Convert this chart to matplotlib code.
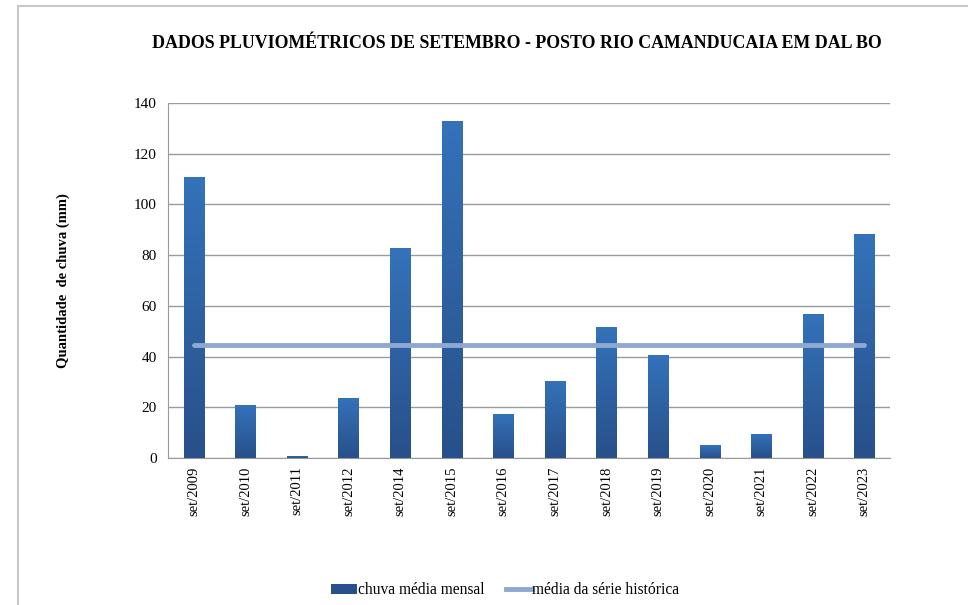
import matplotlib.pyplot as plt
import numpy as np
from matplotlib.lines import Line2D
from matplotlib.patches import Patch
from matplotlib.colors import LinearSegmentedColormap

plt.rcParams['font.family'] = ['Liberation Serif', 'DejaVu Serif']

# Data
categorias = ['set/2009', 'set/2010', 'set/2011', 'set/2012', 'set/2014', 'set/2015', 'set/2016',
              'set/2017', 'set/2018', 'set/2019', 'set/2020', 'set/2021', 'set/2022', 'set/2023']
chuva = [110.8, 20.9, 0.8, 23.7, 82.8, 132.9, 17.4, 30.4, 51.7, 40.6, 5.1, 9.5, 56.8, 88.3]
media_historica = 44.6

cor_base = '#28508A'
cor_topo = '#3472BA'
cor_media = '#8EA8D3'
cor_grade = '#9A9A9A'

fig = plt.figure(figsize=(9.68, 6.05), dpi=100)
ax = fig.add_axes([0.1736, 0.2430, 0.7459, 0.5868])

x = np.arange(len(categorias))
bars = ax.bar(x, chuva, width=0.39, color=cor_base, zorder=2)

# gradient fill for each bar
cmap = LinearSegmentedColormap.from_list('grad', [cor_base, cor_topo])
grad = np.linspace(0, 1, 256).reshape(-1, 1)
for b in bars:
    bx, by = b.get_x(), b.get_y()
    bw, bh = b.get_width(), b.get_height()
    im = ax.imshow(grad, cmap=cmap, origin='lower', aspect='auto',
                   extent=[bx, bx + bw, by, by + bh], zorder=3)
    im.set_clip_path(b)

ax.plot([x[0], x[-1]], [media_historica] * 2, color=cor_media, lw=3.5,
        solid_capstyle='round', zorder=4)

ax.set_xlim(-0.5, len(categorias) - 0.5)
ax.set_ylim(0, 140)
ax.set_yticks(np.arange(0, 141, 20))
ax.set_xticks(x)
ax.set_xticklabels(categorias, rotation=90, fontsize=10.5)
ax.tick_params(axis='y', labelsize=11, length=0, pad=8)
ax.tick_params(axis='x', length=0, pad=6)
ax.grid(axis='y', color=cor_grade, lw=1, zorder=0)
for s in ['top', 'right']:
    ax.spines[s].set_visible(False)
ax.spines['left'].set_color(cor_grade)
ax.spines['bottom'].set_color(cor_grade)

ax.set_ylabel('Quantidade  de chuva (mm)', fontsize=10.5, fontweight='bold', labelpad=46)

fig.text(0.534, 0.928, 'DADOS PLUVIOMÉTRICOS DE SETEMBRO - POSTO RIO CAMANDUCAIA EM DAL BO',
         ha='center', va='center', fontsize=12.9, fontweight='bold')

handles = [Patch(facecolor=cor_base, edgecolor='none'),
           Line2D([0], [0], color=cor_media, lw=3.5)]
fig.legend(handles, ['chuva média mensal', 'média da série histórica'],
           loc='center', bbox_to_anchor=(0.522, 0.024), ncol=2, frameon=False,
           fontsize=11.2, handlelength=1.65, handletextpad=0.05, columnspacing=1.4)

# outer border of the chart area
fig.add_artist(Line2D([18 / 968, 18 / 968], [0, 1 - 6 / 605], color='#C8C8C8', lw=1.5))
fig.add_artist(Line2D([18 / 968, 1], [1 - 6 / 605, 1 - 6 / 605], color='#C8C8C8', lw=1.5))

fig.savefig('out.png', dpi=100, facecolor='white')
